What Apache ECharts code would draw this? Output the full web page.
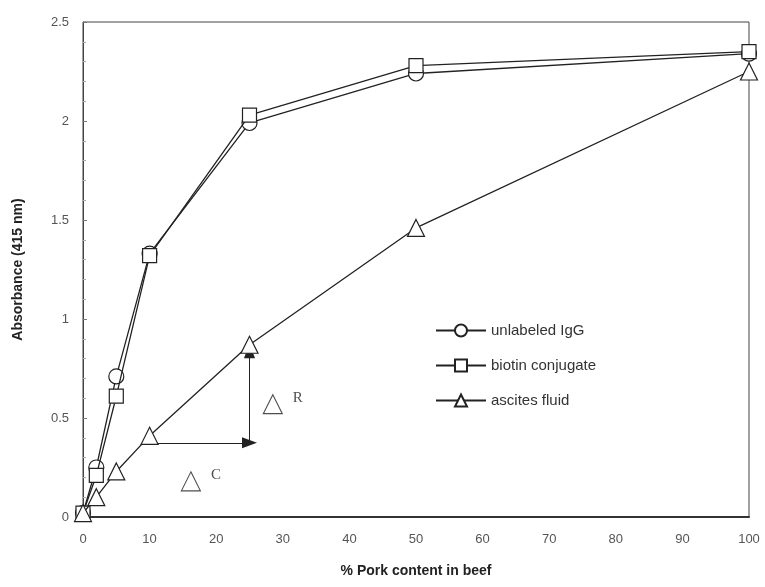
<!DOCTYPE html>
<html>
<head>
<meta charset="utf-8">
<script src="https://cdn.jsdelivr.net/npm/echarts@6/dist/echarts.min.js"></script>
<style>
html, body { margin: 0; padding: 0; background: #fff; }
#main { width: 765px; height: 587px; }
</style>
</head>
<body>
<div id="main"></div>
<script>
var porkPct = [0, 2, 5, 10, 25, 50, 100];
var igg = [0.02, 0.25, 0.71, 1.33, 1.99, 2.24, 2.34];
var biotin = [0.02, 0.21, 0.61, 1.32, 2.03, 2.28, 2.35];
var ascites = [0.02, 0.10, 0.23, 0.41, 0.87, 1.46, 2.25];
// arrows: horizontal (delta C) then vertical (delta R)
var arrowC = [[10, 0.375], [25, 0.375]];
var arrowR = [[25, 0.375], [25, 0.84]];
var deltaLabels = [[16.2, 0.18, 'C'], [28.5, 0.57, 'R']];

function pairs(ys) {
    return porkPct.map(function (x, i) { return [x, ys[i]]; });
}

var myChart = echarts.init(document.getElementById('main'));
var lineCol = '#222';
var option = {
    animation: false,
    grid: {
        left: 83,
        right: 16,
        top: 22,
        bottom: 70,
        show: true,
        borderColor: '#444',
        borderWidth: 1
    },
    legend: {
        orient: 'vertical',
        left: 430,
        top: 318,
        itemGap: 20,
        itemWidth: 50,
        itemHeight: 15,
        textStyle: {
            fontFamily: 'Liberation Sans',
            fontSize: 15,
            color: '#333'
        },
        data: ['unlabeled IgG', 'biotin conjugate', 'ascites fluid']
    },
    xAxis: {
        type: 'value',
        min: 0,
        max: 100,
        interval: 10,
        name: '% Pork content in beef',
        nameLocation: 'middle',
        nameGap: 47,
        nameTextStyle: {
            fontFamily: 'Liberation Sans',
            fontWeight: 'bold',
            fontSize: 14,
            color: '#222'
        },
        axisLine: { lineStyle: { color: '#333', width: 2 } },
        axisTick: { show: false },
        splitLine: { show: false },
        axisLabel: {
            fontFamily: 'Liberation Sans',
            fontSize: 13,
            color: '#555',
            margin: 16
        }
    },
    yAxis: {
        type: 'value',
        min: 0,
        max: 2.5,
        interval: 0.5,
        name: 'Absorbance (415 nm)',
        nameLocation: 'middle',
        nameGap: 58,
        nameTextStyle: {
            fontFamily: 'Liberation Sans',
            fontWeight: 'bold',
            fontSize: 14,
            color: '#222'
        },
        axisLine: { show: true, lineStyle: { color: '#444', width: 1 } },
        axisTick: { show: true, inside: true, length: 4, lineStyle: { color: '#777' } },
        minorTick: { show: true, splitNumber: 5, length: 3, lineStyle: { color: '#aaa' } },
        splitLine: { show: false },
        axisLabel: {
            fontFamily: 'Liberation Sans',
            fontSize: 13,
            color: '#555',
            margin: 14
        }
    },
    series: [
        {
            name: 'unlabeled IgG',
            type: 'line',
            symbol: 'circle',
            symbolSize: 15,
            lineStyle: { color: lineCol, width: 1.3 },
            itemStyle: { color: '#fff', borderColor: lineCol, borderWidth: 1.2 },
            z: 3,
            data: pairs(igg)
        },
        {
            name: 'biotin conjugate',
            type: 'line',
            symbol: 'rect',
            symbolSize: 14,
            lineStyle: { color: lineCol, width: 1.3 },
            itemStyle: { color: '#fff', borderColor: lineCol, borderWidth: 1.2 },
            z: 4,
            data: pairs(biotin)
        },
        {
            name: 'ascites fluid',
            type: 'line',
            symbol: 'triangle',
            symbolSize: 17,
            lineStyle: { color: lineCol, width: 1.3 },
            itemStyle: { color: '#fff', borderColor: lineCol, borderWidth: 1.2 },
            z: 5,
            data: pairs(ascites),
            markLine: {
                silent: true,
                symbol: ['none', 'triangle'],
                symbolSize: [11, 15],
                label: { show: false },
                lineStyle: { color: lineCol, width: 1, type: 'solid' },
                data: [
                    [{ coord: arrowC[0] }, { coord: arrowC[1] }],
                    [{ coord: arrowR[0] }, { coord: arrowR[1] }]
                ]
            }
        },
        {
            name: 'delta',
            type: 'scatter',
            symbol: 'triangle',
            symbolSize: 19,
            itemStyle: { color: '#fff', borderColor: lineCol, borderWidth: 1.1 },
            label: {
                show: true,
                position: 'right',
                distance: 10,
                offset: [0, -6],
                fontFamily: 'Liberation Serif',
                fontSize: 15,
                color: '#222',
                formatter: function (p) { return p.value[2]; }
            },
            data: deltaLabels
        }
    ]
};
myChart.setOption(option);
</script>
</body>
</html>
